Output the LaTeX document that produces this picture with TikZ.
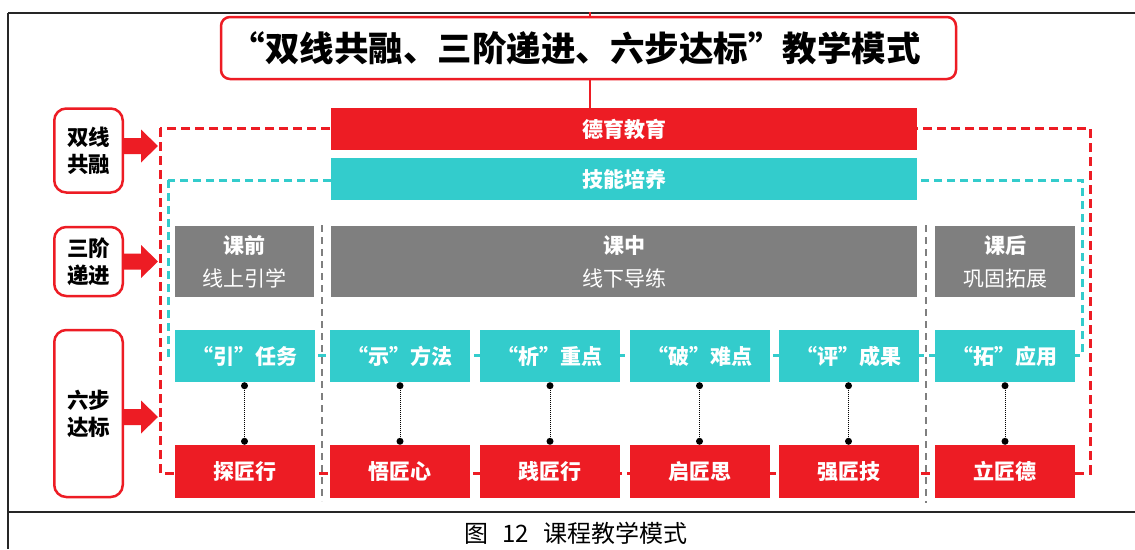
\documentclass[tikz,border=0pt]{standalone}
\usepackage{fontspec}
\setmainfont{Noto Sans CJK SC}
\usetikzlibrary{calc}
\definecolor{myred}{HTML}{ED1C24}
\definecolor{mycyan}{HTML}{33CCCC}
\definecolor{mygray}{HTML}{7F7F7F}
\begin{document}
\begin{tikzpicture}[x=1pt,y=-1pt,
  redbar/.style={fill=myred,text=white,font=\bfseries\fontsize{21}{25}\selectfont,minimum width=586pt,minimum height=42pt,inner sep=0pt},
  cyanbar/.style={fill=mycyan,text=white,font=\bfseries\fontsize{21}{25}\selectfont,minimum width=586pt,minimum height=42pt,inner sep=0pt},
  graybox/.style={fill=mygray,text=white,align=center,font=\fontsize{21}{33}\selectfont,minimum height=71pt,inner sep=0pt},
  cbox/.style={fill=mycyan,text=white,font=\bfseries\fontsize{21}{25}\selectfont,minimum width=140pt,minimum height=52pt,inner sep=0pt},
  rbox/.style={fill=myred,text=white,font=\bfseries\fontsize{21}{25}\selectfont,minimum width=140pt,minimum height=53pt,inner sep=0pt},
  lbl/.style={draw=myred,line width=2.5pt,rounded corners=12pt,fill=white,align=center,font=\bfseries\fontsize{21.5}{27}\selectfont,minimum width=68.5pt,inner sep=0pt},
  redline/.style={draw=myred,line width=3pt,dash pattern=on 9pt off 5pt},
  cyanline/.style={draw=mycyan,line width=3pt,dash pattern=on 8pt off 5pt},
  grayline/.style={draw=mygray,line width=1.8pt,dash pattern=on 7pt off 5pt},
  dotline/.style={draw=black,line width=0.8pt,dash pattern=on 1pt off 1pt},
  frame/.style={draw=black!85,line width=1.3pt},
  blockarrow/.style={fill=myred}
]
\useasboundingbox (0,0) rectangle (1135,549);
\fill[white] (0,0) rectangle (1135,549);

% frame lines
\draw[frame] (8,13) -- (1135,13);
\draw[frame] (8,13) -- (8,549);
\draw[frame] (8,512) -- (1135,512);

% dashed loops
\draw[redline] (160,128) rectangle (1090,473);
\draw[cyanline] (168,180) rectangle (1082,355);

% gray dashed separators
\draw[grayline] (322,225) -- (322,501);
\draw[grayline] (926,225) -- (926,503);

% top tick line behind title
\coordinate (tk) at (590,12);
\node[redbar] (deyu) at (624,129) {德育教育};
\draw[myred,line width=2pt] (tk) -- (tk |- deyu.north);

% title
\node[draw=myred,line width=2.5pt,rounded corners=9pt,fill=white,minimum width=735pt,minimum height=62pt,inner sep=0pt,
  font=\bfseries\fontsize{34.5}{40}\selectfont] (title) at (588.5,48) {“双线共融、三阶递进、六步达标”教学模式\kern26pt};

\node[cyanbar] (jineng) at (624,179) {技能培养};

% gray phase boxes
\node[graybox,minimum width=139pt] (g1) at (244.5,261.5) {{\bfseries 课前}\\线上引学};
\node[graybox,minimum width=586pt] (g2) at (624,261.5) {{\bfseries 课中}\\线下导练};
\node[graybox,minimum width=140pt] (g3) at (1005,261.5) {{\bfseries 课后}\\巩固拓展};

% cyan step boxes
\node[cbox] (c1) at (244.5,356) {“引”任务};
\node[cbox] (c2) at (400,356) {“示”方法};
\node[cbox] (c3) at (550,356) {“析”重点};
\node[cbox] (c4) at (699.5,356) {“破”难点};
\node[cbox] (c5) at (848.5,356) {“评”成果};
\node[cbox] (c6) at (1005,356) {“拓”应用};

% red result boxes
\node[rbox] (r1) at (244.5,471.5) {探匠行};
\node[rbox] (r2) at (400,471.5) {悟匠心};
\node[rbox] (r3) at (550,471.5) {践匠行};
\node[rbox] (r4) at (699.5,471.5) {启匠思};
\node[rbox] (r5) at (848.5,471.5) {强匠技};
\node[rbox] (r6) at (1005,471.5) {立匠德};

% dotted connectors with dots
\foreach \i in {1,...,6}{
  \draw[dotline] ([yshift=-3.5pt]c\i.south) -- ([yshift=3.5pt]r\i.north);
  \fill[black] ([yshift=-3.5pt]c\i.south) circle (3.5pt);
  \fill[black] ([yshift=3.5pt]r\i.north) circle (3.5pt);
}

% left labels
\node[lbl,minimum height=84pt] (l1) at (88.5,150.5) {双线\\共融};
\node[lbl,minimum height=69pt] (l2) at (88.5,261.5) {三阶\\递进};
\node[lbl,minimum height=167pt] (l3) at (88.5,413.5) {六步\\达标};

% block arrows
\foreach \n/\dy in {l1/-4.5,l2/0,l3/3.5}{
  \fill[blockarrow] ($(\n.east)+(0,\dy-8)$) -- ++(17,0) -- ++(0,-8.5)
     -- ($(\n.east)+(34,\dy)$) -- ($(\n.east)+(17,\dy+16.5)$) -- ++(0,-8.5)
     -- ($(\n.east)+(0,\dy+8)$) -- cycle;
}

% caption
\node[font=\fontsize{24}{28}\selectfont] (cap) at (576,533) {图\hspace{14pt}12\hspace{14pt}课程教学模式};
\end{tikzpicture}
\end{document}
